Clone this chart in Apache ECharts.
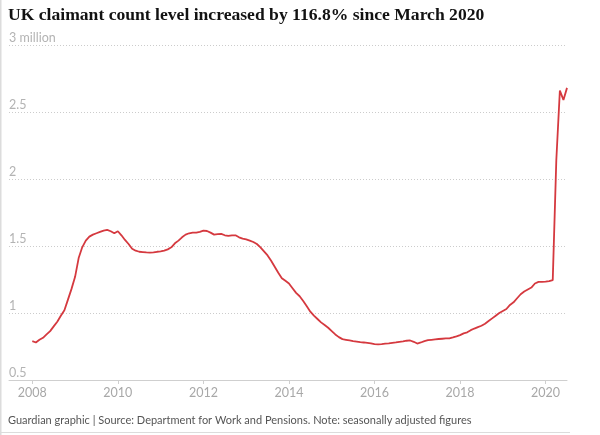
<!DOCTYPE html>
<html>
<head>
<meta charset="utf-8">
<script src="https://cdn.jsdelivr.net/npm/echarts@6/dist/echarts.min.js"></script>
<style>
html,body{margin:0;padding:0;background:#fff;}
#chart{width:600px;height:435px;}
</style>
</head>
<body>
<div id="chart"></div>
<script>
// Claimant count (millions), monthly, Jan 2008 – Jul 2020
const startYear = 2008;
const claimantMillions = [
  // 2008
  0.79, 0.78, 0.80, 0.815, 0.84, 0.865, 0.90, 0.935, 0.98, 1.02, 1.10, 1.18,
  // 2009
  1.27, 1.41, 1.49, 1.54, 1.57, 1.585, 1.595, 1.605, 1.615, 1.62, 1.61, 1.595,
  // 2010
  1.61, 1.58, 1.545, 1.515, 1.48, 1.465, 1.457, 1.455, 1.452, 1.45, 1.452, 1.457,
  // 2011
  1.46, 1.465, 1.475, 1.49, 1.52, 1.54, 1.565, 1.585, 1.595, 1.60, 1.60, 1.605,
  // 2012
  1.614, 1.612, 1.60, 1.585, 1.588, 1.59, 1.58, 1.575, 1.58, 1.58, 1.565, 1.555,
  // 2013
  1.55, 1.54, 1.53, 1.515, 1.49, 1.46, 1.43, 1.39, 1.345, 1.30, 1.26, 1.24,
  // 2014
  1.22, 1.185, 1.15, 1.125, 1.09, 1.05, 1.01, 0.98, 0.955, 0.93, 0.91, 0.89,
  // 2015
  0.865, 0.84, 0.82, 0.805, 0.80, 0.795, 0.79, 0.787, 0.782, 0.78, 0.777, 0.773,
  // 2016
  0.768, 0.766, 0.768, 0.771, 0.773, 0.777, 0.78, 0.785, 0.788, 0.793, 0.795, 0.785,
  // 2017
  0.772, 0.78, 0.79, 0.797, 0.80, 0.803, 0.806, 0.808, 0.81, 0.811, 0.818, 0.826,
  // 2018
  0.835, 0.848, 0.856, 0.872, 0.884, 0.895, 0.905, 0.92, 0.94, 0.96, 0.98, 1.00,
  // 2019
  1.015, 1.03, 1.06, 1.08, 1.11, 1.14, 1.16, 1.175, 1.19, 1.22, 1.232, 1.233,
  // 2020
  1.234, 1.238, 1.245, 2.14, 2.66, 2.59, 2.68
];
const xTickYears = [2008, 2010, 2012, 2014, 2016, 2018, 2020];
const yTicks = [0.5, 1, 1.5, 2, 2.5, 3];

const titleText = 'UK claimant count level increased by 116.8% since March 2020';
const sourceText = 'Guardian graphic | Source: Department for Work and Pensions. Note: seasonally adjusted figures';

const seriesData = claimantMillions.map((v, i) => [startYear + i / 12, v]);

const chart = echarts.init(document.getElementById('chart'), null, {renderer: 'canvas'});
chart.setOption({
  animation: false,
  backgroundColor: '#ffffff',
  title: {
    text: titleText,
    left: 8,
    top: 6,
    padding: 0,
    textStyle: {
      fontFamily: 'Liberation Serif',
      fontWeight: 'bold',
      fontSize: 17.6,
      color: '#121212'
    }
  },
  grid: {left: 9, right: 33, top: 45, bottom: 55, containLabel: false},
  xAxis: {
    type: 'value',
    min: 2007.455,
    max: 2020.5,
    splitLine: {show: false},
    axisLine: {show: true, lineStyle: {color: '#cfcfcf', width: 1}},
    axisTick: {show: true, customValues: xTickYears, length: 4, lineStyle: {color: '#cfcfcf'}},
    axisLabel: {
      customValues: xTickYears,
      formatter: v => String(Math.round(v)),
      color: '#a8a8a8',
      fontFamily: 'Lato',
      fontSize: 12.5,
      margin: 6
    }
  },
  yAxis: {
    type: 'value',
    min: 0.5,
    max: 3,
    interval: 0.5,
    axisLine: {show: false},
    axisTick: {show: false},
    splitLine: {show: true, lineStyle: {color: '#cccccc', type: [1, 2], width: 1}},
    axisLabel: {
      inside: true,
      margin: 0,
      align: 'left',
      verticalAlign: 'bottom',
      padding: [0, 0, 1, 0],
      color: '#b3b3b3',
      fontFamily: 'Lato',
      fontSize: 12.5,
      formatter: v => (v === 3 ? '3 million' : String(v))
    }
  },
  series: [{
    type: 'line',
    data: seriesData,
    showSymbol: false,
    symbol: 'none',
    smooth: false,
    lineStyle: {color: '#d5393f', width: 1.8},
    z: 5
  }],
  graphic: [
    {type: 'rect', left: 0, top: 0, shape: {width: 1.5, height: 435}, style: {fill: '#dcdcdc'}, silent: true},
    {type: 'line', shape: {x1: 0, y1: 432.5, x2: 570, y2: 432.5}, style: {stroke: '#dcdcdc', lineWidth: 1}, silent: true},
    {type: 'text', left: 8, top: 415, style: {text: sourceText, fill: '#555555', font: '11px Lato'}, silent: true}
  ]
});
</script>
</body>
</html>
